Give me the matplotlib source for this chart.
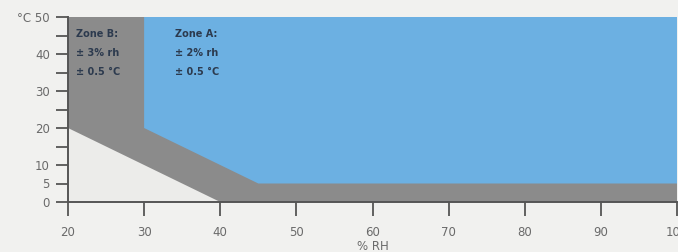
"""
Humidity / temperature control zones
====================================
"""

import matplotlib.pyplot as plt

# zone outlines (% RH, degC)
zone_b_rh = [20, 20, 40, 100, 100]
zone_b_t = [50, 20, 0, 0, 50]
zone_a_rh = [30, 30, 45, 100, 100]
zone_a_t = [50, 20, 5, 5, 50]

x_ticks = [20, 30, 40, 50, 60, 70, 80, 90, 100]
y_ticks = [0, 5, 10, 15, 20, 25, 30, 35, 40, 45, 50]
y_labels = ['0', '5', '10', '', '20', '', '30', '', '40', '', '°C 50']

zone_b_text = ['Zone B:', '± 3% rh', '± 0.5 °C']
zone_a_text = ['Zone A:', '± 2% rh', '± 0.5 °C']

fig = plt.figure(figsize=(6.78, 2.52), dpi=100, facecolor='#f1f1ef')
ax = fig.add_axes([68 / 678, 50 / 252, 609 / 678, 185 / 252])
ax.set_facecolor('#ececea')

ax.fill(zone_b_rh, zone_b_t, color='#8b8b8b', lw=0)
ax.fill(zone_a_rh, zone_a_t, color='#6cb0e2', lw=0)

ax.set_xlim(20, 100)
ax.set_ylim(0, 50)

for s in ['top', 'right']:
    ax.spines[s].set_visible(False)
for s in ['left', 'bottom']:
    ax.spines[s].set_color('#555555')
    ax.spines[s].set_linewidth(1.4)

ax.set_xticks(x_ticks)
ax.set_xticklabels([str(v) for v in x_ticks])
ax.set_yticks(y_ticks)
ax.set_yticklabels(y_labels)
ax.tick_params(axis='x', direction='out', length=10, width=1.3, color='#555555',
               labelsize=8.5, labelcolor='#6a6a6a', pad=7)
ax.tick_params(axis='y', direction='out', length=9, width=1.3, color='#555555',
               labelsize=8.5, labelcolor='#6a6a6a', pad=4)

ax.set_xlabel('% RH', fontsize=8.5, color='#6a6a6a', labelpad=1)

# zone captions
for i, line in enumerate(zone_b_text):
    ax.text(21, 45.5 - i * 5.2, line, fontsize=7, fontweight='bold',
            color='#2c3a4e', va='center', ha='left')
for i, line in enumerate(zone_a_text):
    ax.text(34, 45.5 - i * 5.2, line, fontsize=7, fontweight='bold',
            color='#2c3a4e', va='center', ha='left')

fig.savefig('out.png', dpi=100, facecolor=fig.get_facecolor())
